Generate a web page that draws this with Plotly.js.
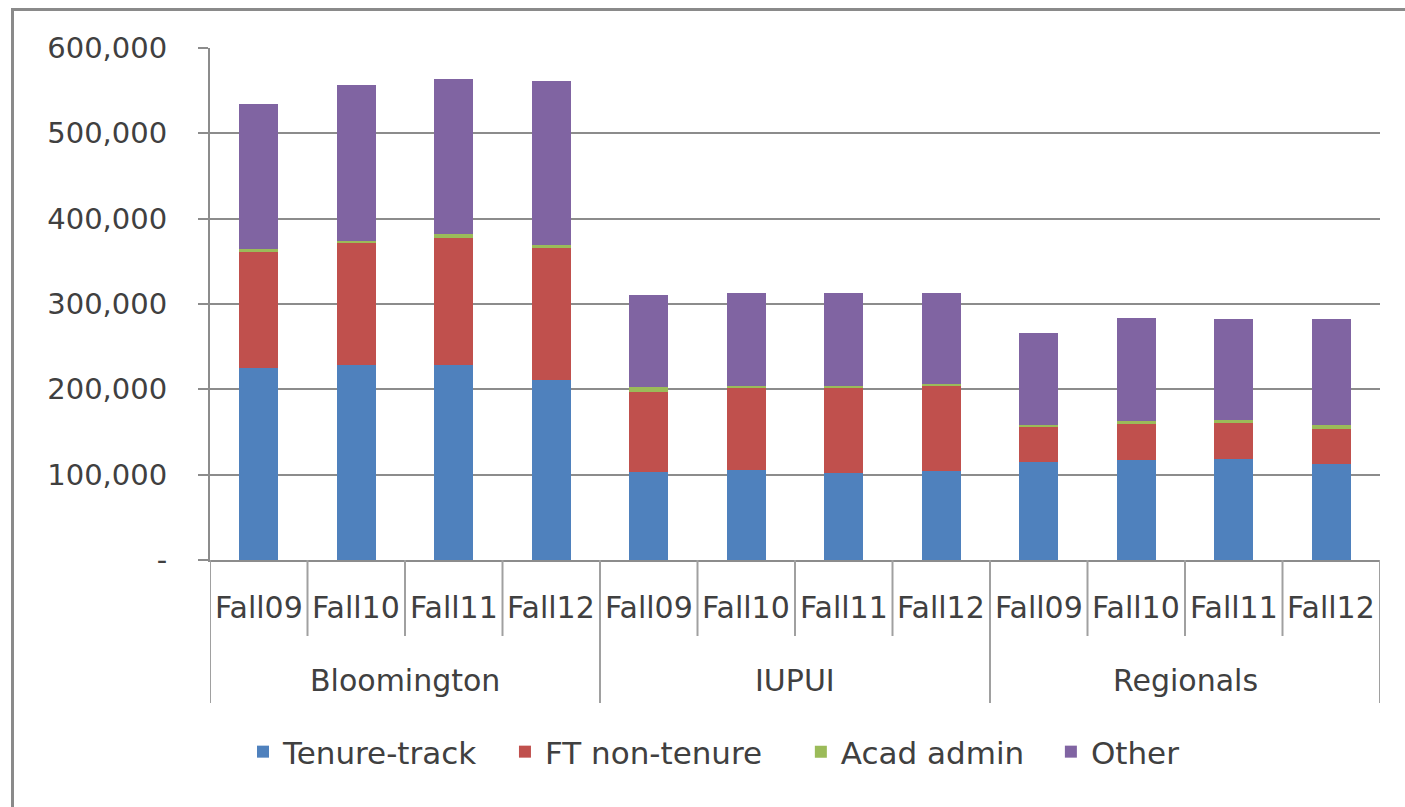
<!DOCTYPE html>
<html>
<head>
<meta charset="utf-8">
<script src="https://cdn.plot.ly/plotly-3.0.1.min.js"></script>
<style>
  html, body { margin: 0; padding: 0; background: #fff; overflow: hidden; }
  #chart { position: absolute; left: 0; top: 0; width: 1405px; height: 807px; }
</style>
</head>
<body>
<div id="chart"></div>
<script>
// ---- data ----
const groups = ['Bloomington', 'IUPUI', 'Regionals'];
const terms = ['Fall09', 'Fall10', 'Fall11', 'Fall12'];
const seriesNames = ['Tenure-track', 'FT non-tenure', 'Acad admin', 'Other'];
const tenureTrack = [225000, 228000, 229000, 211500, 103000, 105000, 102000, 104000, 114500, 117000, 118000, 112000];
const ftNonTenure = [136500, 143000, 148000, 154000, 94000, 96000, 99500, 100000, 41500, 42000, 43000, 41800];
const acadAdmin   = [2500, 2300, 5500, 3500, 6000, 3000, 2000, 2700, 2300, 3900, 3000, 3900];
const other       = [170000, 183000, 181500, 192000, 107000, 109000, 109000, 106000, 108000, 120300, 119000, 125000];
const yTickVals = [0, 100000, 200000, 300000, 400000, 500000, 600000];
const yTickText = ['-', '100,000', '200,000', '300,000', '400,000', '500,000', '600,000'];

// ---- styling ----
const colors = ['#4F81BD', '#C0504D', '#9BBB59', '#8064A2'];
const textColor = '#404040';
const lineGray = '#8c8c8c';
const fontFamily = 'DejaVu Sans, sans-serif';
const legendX = [0.0282, 0.2521, 0.505, 0.7187];

const W = 1405, H = 807, ML = 210, MR = 25, MT = 48, MB = 247;
const plotW = W - ML - MR, plotH = H - MT - MB;
const px2x = p => (p - ML) / plotW;
const py2y = p => (H - MB - p) / plotH;

const xcats = [];
groups.forEach(g => terms.forEach(t => xcats.push(g + ' ' + t)));
const values = [tenureTrack, ftNonTenure, acadAdmin, other];
const legendIds = ['legend', 'legend2', 'legend3', 'legend4'];

const traces = values.map((v, k) => ({
  type: 'bar',
  name: seriesNames[k],
  x: xcats,
  y: v,
  legend: legendIds[k],
  marker: { color: colors[k], line: { width: 0 } },
  hoverinfo: 'x+y+name'
}));

const annotations = [];
const shapes = [];
xcats.forEach((c, i) => {
  annotations.push({
    x: i, xref: 'x', y: -47 / plotH, yref: 'paper',
    text: terms[i % terms.length], showarrow: false,
    xanchor: 'center', yanchor: 'middle',
    font: { family: fontFamily, size: 30, color: textColor }
  });
});
groups.forEach((g, gi) => {
  const n = terms.length;
  annotations.push({
    x: gi * n + (n - 1) / 2, xref: 'x', y: -120 / plotH, yref: 'paper',
    text: g, showarrow: false, xanchor: 'center', yanchor: 'middle',
    font: { family: fontFamily, size: 30, color: textColor }
  });
});
for (let i = 0; i <= xcats.length; i++) {
  const isGroup = (i % terms.length === 0);
  shapes.push({
    type: 'line', xref: 'x', yref: 'paper',
    x0: i - 0.5, x1: i - 0.5, y0: 0, y1: -(isGroup ? 143 : 76) / plotH,
    line: { color: '#a0a0a0', width: 2 }
  });
}
// outer chart frame (top and left edges only, as in the reference)
shapes.push({ type: 'line', xref: 'paper', yref: 'paper', x0: px2x(12.5), x1: px2x(W + 5), y0: py2y(9.5), y1: py2y(9.5), line: { color: '#8a8a8a', width: 3 } });
shapes.push({ type: 'line', xref: 'paper', yref: 'paper', x0: px2x(12.5), x1: px2x(12.5), y0: py2y(8), y1: py2y(H + 5), line: { color: '#8a8a8a', width: 3 } });

const layout = {
  width: W, height: H,
  margin: { l: ML, r: MR, t: MT, b: MB },
  paper_bgcolor: '#ffffff', plot_bgcolor: '#ffffff',
  barmode: 'stack', bargap: 0.6,
  font: { family: fontFamily, size: 29, color: textColor },
  xaxis: {
    type: 'category', categoryorder: 'array', categoryarray: xcats,
    range: [-0.5, xcats.length - 0.5],
    showticklabels: false, ticks: '', showgrid: false, zeroline: false,
    showline: true, linecolor: lineGray, linewidth: 2, fixedrange: true
  },
  yaxis: {
    range: [0, 600000], tickvals: yTickVals, ticktext: yTickText,
    showgrid: true, gridcolor: lineGray, gridwidth: 2,
    zeroline: false, showline: true, linecolor: lineGray, linewidth: 2,
    ticks: 'outside', ticklen: 10, tickwidth: 2, tickcolor: lineGray,
    ticklabelstandoff: 25,
    tickfont: { family: fontFamily, size: 29, color: textColor },
    fixedrange: true
  },
  annotations: annotations,
  shapes: shapes,
  showlegend: true
};
legendIds.forEach((id, k) => {
  layout[id] = {
    orientation: 'h', x: legendX[k], xanchor: 'left', y: -192 / plotH, yanchor: 'middle',
    font: { family: fontFamily, size: 31, color: textColor },
    bgcolor: 'rgba(0,0,0,0)', itemclick: false, itemdoubleclick: false
  };
});

Plotly.newPlot('chart', traces, layout, { displayModeBar: false, staticPlot: true });
</script>
</body>
</html>
